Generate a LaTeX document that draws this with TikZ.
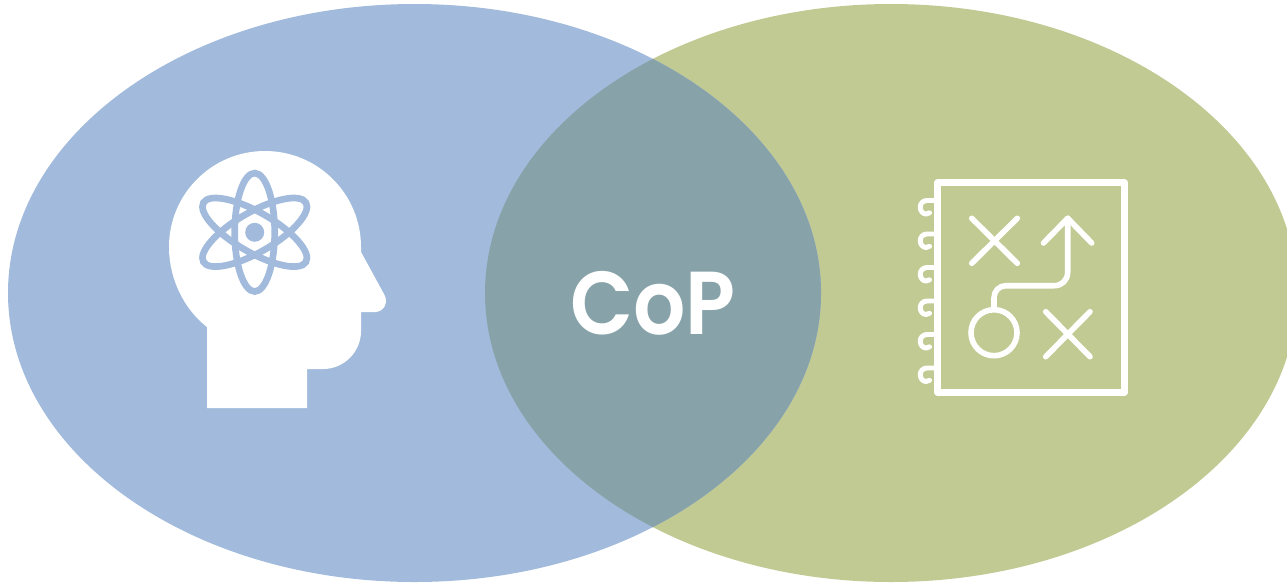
\documentclass[tikz,border=0pt]{standalone}
\usepackage{fontspec}
\newfontfamily\copfont{Poppins SemiBold}[FakeStretch=0.92]
\definecolor{blueset}{RGB}{162,187,220}
\definecolor{greenset}{RGB}{194,202,148}
\definecolor{midset}{RGB}{135,163,169}
\tikzset{every picture/.style={line width=0.75pt}}
\tikzset{atomline/.style={draw=blueset,line width=5pt},
  iconline/.style={draw=white,line width=4.2pt,line cap=round,line join=round},
  ringline/.style={draw=white,line width=3.7pt,line cap=round,line join=round}}

\begin{document}
\begin{tikzpicture}[x=0.75pt,y=0.75pt,yscale=-1,xscale=1]
\useasboundingbox (0,0) rectangle (1287,583);
\clip (0,0) rectangle (1287,583);

%Shape: Ellipse
\fill [greenset] (891,293) ellipse [x radius=406, y radius=289];
\fill [blueset] (414.5,293) ellipse [x radius=406.5, y radius=289];
%Shape: Overlap
\begin{scope}
\clip (414.5,293) ellipse [x radius=406.5, y radius=289];
\fill [midset] (891,293) ellipse [x radius=406, y radius=289];
\end{scope}

%Shape: Head
\fill [white] (207,408) -- (307,408) -- (307,369) -- (323,369) .. controls (344,369) and (361,352) .. (361,331) -- (361,312) -- (375,312) .. controls (384,312) and (389,302) .. (384,294) -- (361,252) -- (361,247) .. controls (361,194) and (318,151) .. (265,151) .. controls (212,151) and (169,194) .. (169,247) .. controls (169,279) and (184,309) .. (207,327) -- cycle;
%Shape: Atom
\foreach \turn in {0,60,-60} {
\draw [atomline, rotate around={\turn:(254.7,232.3)}] (254.7,232.3) ellipse [x radius=20, y radius=59.2];
}
\fill [blueset] (254.7,232.3) circle [radius=9.5];

%Shape: Notebook
\draw [iconline, line width=4.6pt] (937.5,182.5) rectangle (1124.5,392.5);
%Spirals
\foreach \ypos in {0,33.5,67,100.5,134,167.5} {
\draw [ringline, shift={(0,\ypos)}] (935,200.5) -- (927,200.5) .. controls (923,200.5) and (920.2,203.5) .. (920.2,207.2) .. controls (920.2,211) and (923,214) .. (926,214) .. controls (927.5,214) and (928.7,213.6) .. (929.5,212.8);
}
%Straight Lines
\draw [iconline] (971.7,218.3) -- (1017.3,263.3);
\draw [iconline] (1017.3,218.3) -- (971.7,263.3);
\draw [iconline] (1045.7,311.7) -- (1090,356.7);
\draw [iconline] (1090,311.7) -- (1045.7,356.7);
%Arrow
\draw [iconline] (994,308) -- (994,298) .. controls (994,291) and (999,285.7) .. (1006,285.7) -- (1054,285.7) .. controls (1062,285.7) and (1067.7,280) .. (1067.7,272) -- (1067.7,218.3);
\draw [iconline] (1043.5,243) -- (1067.7,218.3) -- (1091.7,243);
%Shape: Circle
\draw [iconline] (994,332.7) circle [radius=23];

% Text Node
\node (cop) at (653,303.5) [inner sep=0pt, text=white, font=\copfont\fontsize{67}{67}\selectfont] {CoP};
\end{tikzpicture}
\end{document}
